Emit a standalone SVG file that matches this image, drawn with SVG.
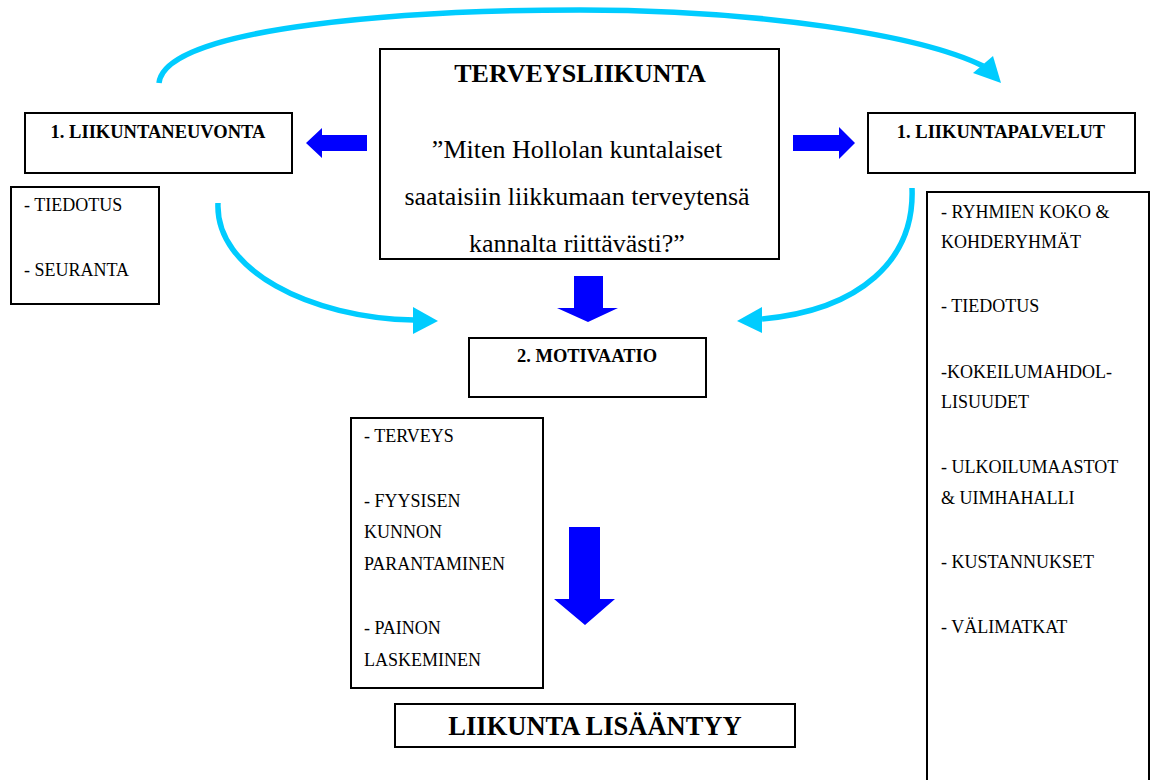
<svg xmlns="http://www.w3.org/2000/svg" width="1152" height="780" viewBox="0 0 1152 780">
<style>
.box{fill:#fff;stroke:#000;stroke-width:2}
.t{font-family:"Liberation Serif","Times New Roman",serif;fill:#000}
.b{font-weight:bold}
.l{font-size:18px}
.h{font-size:18.5px;font-weight:bold}
.cy{fill:none;stroke:#00CCFF;stroke-width:5.5}
.cyh{fill:#00CCFF}
.bl{fill:#0000FF}
</style>
<rect width="1152" height="780" fill="#fff"/>
<g id="connectors">
<path class="cy" d="M159,83 C165,25 420,10 580,10 C760,10 920,35 983,66"/>
<polygon class="cyh" points="1001,83 973,73 993,56"/>
<path class="cy" d="M218,203 C215,270 310,318 414,320"/>
<polygon class="cyh" points="438,321 413,307 413,334"/>
<path class="cy" d="M912,188 C915,260 860,310 762,319"/>
<polygon class="cyh" points="737,321 762,307 762,333"/>
<polygon class="bl" points="306,143 322,128 322,135 367,135 367,151 322,151 322,158"/>
<polygon class="bl" points="855,143 839,127 839,135 793,135 793,151 839,151 839,159"/>
<polygon class="bl" points="574,276 603,276 603,308 618,308 588,322 557,308 574,308"/>
<polygon class="bl" points="569,527 600,527 600,599 615,599 585,625 554,599 569,599"/>
</g>
<g id="terveysliikunta">
<rect class="box" x="380" y="49" width="399" height="210"/>
<text class="t b" x="580" y="82" font-size="26" text-anchor="middle">TERVEYSLIIKUNTA</text>
<text class="t" font-size="26" text-anchor="middle"><tspan x="577" y="158">”Miten Hollolan kuntalaiset</tspan><tspan x="577" y="205">saataisiin liikkumaan terveytensä</tspan><tspan x="577" y="252">kannalta riittävästi?”</tspan></text>
</g>
<g id="liikuntaneuvonta">
<rect class="box" x="25" y="113" width="267" height="60"/>
<text class="t h" x="158" y="138" text-anchor="middle">1. LIIKUNTANEUVONTA</text>
</g>
<g id="neuvonta-list">
<rect class="box" x="11" y="187" width="148" height="117"/>
<text class="t l"><tspan x="24" y="211">- TIEDOTUS</tspan><tspan x="24" y="276">- SEURANTA</tspan></text>
</g>
<g id="liikuntapalvelut">
<rect class="box" x="868" y="113" width="267" height="60"/>
<text class="t h" x="1001" y="138" text-anchor="middle">1. LIIKUNTAPALVELUT</text>
</g>
<g id="palvelut-list">
<rect class="box" x="927" y="192" width="222" height="600"/>
<text class="t l"><tspan x="941" y="218">- RYHMIEN KOKO &amp;</tspan><tspan x="941" y="248">KOHDERYHMÄT</tspan><tspan x="941" y="312">- TIEDOTUS</tspan><tspan x="941" y="378">-KOKEILUMAHDOL-</tspan><tspan x="941" y="408">LISUUDET</tspan><tspan x="941" y="473">- ULKOILUMAASTOT</tspan><tspan x="941" y="504">&amp; UIMHAHALLI</tspan><tspan x="941" y="568">- KUSTANNUKSET</tspan><tspan x="941" y="633">- VÄLIMATKAT</tspan></text>
</g>
<g id="motivaatio">
<rect class="box" x="469" y="338" width="237" height="59"/>
<text class="t h" x="587" y="362" text-anchor="middle">2. MOTIVAATIO</text>
</g>
<g id="motivaatio-list">
<rect class="box" x="351" y="418" width="192" height="270"/>
<text class="t l"><tspan x="364" y="442">- TERVEYS</tspan><tspan x="364" y="507">- FYYSISEN</tspan><tspan x="364" y="538">KUNNON</tspan><tspan x="364" y="570">PARANTAMINEN</tspan><tspan x="364" y="634">- PAINON</tspan><tspan x="364" y="666">LASKEMINEN</tspan></text>
</g>
<g id="liikunta-lisaantyy">
<rect class="box" x="395" y="704" width="400" height="43"/>
<text class="t b" x="595" y="735" font-size="26.5" text-anchor="middle">LIIKUNTA LISÄÄNTYY</text>
</g>
</svg>
